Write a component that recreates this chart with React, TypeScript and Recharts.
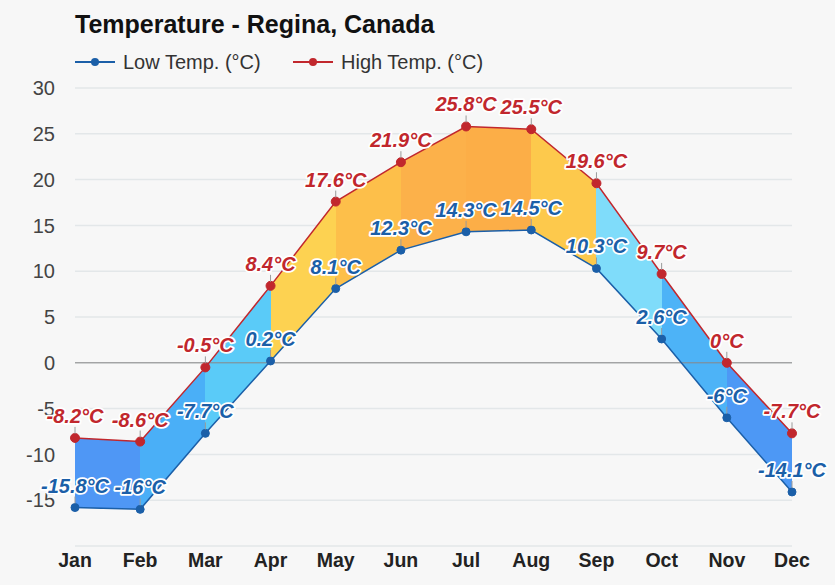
import React from "react";
import {
  ComposedChart,
  Area,
  Line,
  XAxis,
  YAxis,
  CartesianGrid,
  ReferenceLine,
  LabelList,
} from "recharts";

const months = ["Jan", "Feb", "Mar", "Apr", "May", "Jun", "Jul", "Aug", "Sep", "Oct", "Nov", "Dec"];
const lowTemps = [-15.8, -16, -7.7, 0.2, 8.1, 12.3, 14.3, 14.5, 10.3, 2.6, -6, -14.1];
const highTemps = [-8.2, -8.6, -0.5, 8.4, 17.6, 21.9, 25.8, 25.5, 19.6, 9.7, 0, -7.7];
// fill of the band between one month and the next
const segmentColors = [
  "#4f97f5", "#4aaff7", "#5acbf8", "#fdd251", "#fdbf4a", "#fcb14a",
  "#fcae47", "#fdc94c", "#7fdcfa", "#4db3f7", "#4d98f5",
];
const yTicks = [-15, -10, -5, 0, 5, 10, 15, 20, 25, 30];

const data = months.map((m, i) => ({ month: m, low: lowTemps[i], high: highTemps[i] }));

const W = 835;
const H = 585;
const TOP = 88;
const PLOT_H = 458;
const LABEL_FLOOR = TOP + (45 / 50) * PLOT_H - 6; // labels stay inside the -15 line
const FONT = "'Liberation Sans', Arial, Helvetica, sans-serif";
const LOW_COLOR = "#1b5fa8";
const HIGH_COLOR = "#c1272d";

function TempLabel(props: any) {
  const { color, value } = props;
  const x = props.x ?? props.viewBox?.x;
  const y = props.y ?? props.viewBox?.y;
  if (x == null || y == null) return null;
  const base = Math.min(y - 15, LABEL_FLOOR);
  return (
    <g>
      <line x1={x} x2={x} y1={y - 11} y2={y - 4} stroke="#9a9a9a" strokeWidth={1} />
      <text
        x={x}
        y={base}
        textAnchor="middle"
        fontFamily={FONT}
        fontSize={20}
        fontWeight="bold"
        fontStyle="italic"
        fill={color}
        stroke="#ffffff"
        strokeWidth={3.5}
        strokeLinejoin="round"
        paintOrder="stroke"
      >
        {`${value}°C`}
      </text>
    </g>
  );
}

function LegendItem({ left, color, label }: { left: number; color: string; label: string }) {
  return (
    <div style={{ position: "absolute", left, top: 50, height: 24, display: "flex", alignItems: "center" }}>
      <svg width={40} height={24}>
        <line x1={0} x2={40} y1={12} y2={12} stroke={color} strokeWidth={2} />
        <circle cx={20} cy={12} r={4} fill={color} />
      </svg>
      <span style={{ marginLeft: 8, fontSize: 20, color: "#333" }}>{label}</span>
    </div>
  );
}

export default function App() {
  return (
    <div
      style={{
        position: "absolute",
        left: 0,
        top: 0,
        width: W,
        height: H,
        background: "#f7f7f7",
        fontFamily: FONT,
        overflow: "hidden",
      }}
    >
      <div style={{ position: "absolute", left: 75, top: 10, fontSize: 25, fontWeight: "bold", color: "#111" }}>
        Temperature - Regina, Canada
      </div>
      <LegendItem left={75} color={LOW_COLOR} label="Low Temp. (°C)" />
      <LegendItem left={293} color={HIGH_COLOR} label="High Temp. (°C)" />
      <ComposedChart
        width={W}
        height={H}
        data={data}
        margin={{ top: TOP, right: 43, bottom: 0, left: 0 }}
        style={{ position: "absolute", left: 0, top: 0 }}
      >
        <defs>
          <linearGradient id="bandFill" x1="0" y1="0" x2="1" y2="0">
            {segmentColors.flatMap((c, i) => [
              <stop key={`a${i}`} offset={i / segmentColors.length} stopColor={c} />,
              <stop key={`b${i}`} offset={(i + 1) / segmentColors.length} stopColor={c} />,
            ])}
          </linearGradient>
        </defs>
        <CartesianGrid horizontal vertical={false} stroke="#e3e7e9" strokeWidth={1.5} />
        <XAxis
          dataKey="month"
          scale="point"
          padding={{ left: 0, right: 0 }}
          axisLine={false}
          tickLine={false}
          tickSize={0}
          tickMargin={7}
          height={H - TOP - PLOT_H}
          tick={{ fontSize: 19.5, fontWeight: "bold", fill: "#222", fontFamily: FONT }}
        />
        <YAxis
          domain={[-20, 30]}
          ticks={yTicks}
          width={75}
          axisLine={false}
          tickLine={false}
          tickSize={0}
          tickMargin={20}
          tick={{ fontSize: 20, fill: "#444", fontFamily: FONT }}
        />
        <Area
          dataKey={(d: any) => [d.low, d.high]}
          type="linear"
          stroke="none"
          fill="url(#bandFill)"
          fillOpacity={1}
          isAnimationActive={false}
          activeDot={false}
        />
        <ReferenceLine y={0} stroke="#888" strokeWidth={1} />
        <Line
          dataKey="low"
          type="linear"
          stroke={LOW_COLOR}
          strokeWidth={1.5}
          dot={{ r: 4, fill: LOW_COLOR, stroke: LOW_COLOR, strokeWidth: 1 }}
          isAnimationActive={false}
        >
          <LabelList dataKey="low" content={(p: any) => <TempLabel {...p} color={LOW_COLOR} />} />
        </Line>
        <Line
          dataKey="high"
          type="linear"
          stroke={HIGH_COLOR}
          strokeWidth={1.5}
          dot={{ r: 4.5, fill: HIGH_COLOR, stroke: HIGH_COLOR, strokeWidth: 1 }}
          isAnimationActive={false}
        >
          <LabelList dataKey="high" content={(p: any) => <TempLabel {...p} color={HIGH_COLOR} />} />
        </Line>
      </ComposedChart>
    </div>
  );
}
